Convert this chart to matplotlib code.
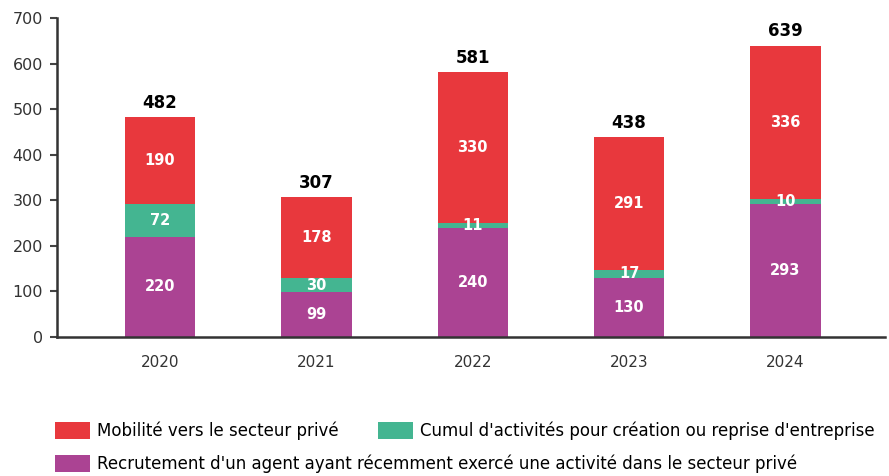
import matplotlib.pyplot as plt
import numpy as np

years = ["2020", "2021", "2022", "2023", "2024"]
recrutement = [220, 99, 240, 130, 293]
cumul = [72, 30, 11, 17, 10]
mobilite = [190, 178, 330, 291, 336]
totals = [482, 307, 581, 438, 639]

labels = ["Mobilité vers le secteur privé",
          "Cumul d'activités pour création ou reprise d'entreprise",
          "Recrutement d'un agent ayant récemment exercé une activité dans le secteur privé"]
c_red, c_green, c_purple = "#E8383D", "#44B591", "#AB4393"

plt.rcParams['font.family'] = ['DejaVu Sans']

fig = plt.figure(figsize=(8.89, 4.76), dpi=100)
ax = fig.add_axes([0.064, 0.292, 0.932, 0.670])

x = np.arange(len(years))
w = 0.45
b1 = ax.bar(x, recrutement, w, color=c_purple)
b2 = ax.bar(x, cumul, w, bottom=recrutement, color=c_green)
bot3 = [a + b for a, b in zip(recrutement, cumul)]
b3 = ax.bar(x, mobilite, w, bottom=bot3, color=c_red)

for i in range(len(years)):
    ax.text(x[i], recrutement[i] / 2, str(recrutement[i]), ha='center', va='center',
            color='white', fontsize=10.5, fontweight='bold')
    ax.text(x[i], recrutement[i] + cumul[i] / 2, str(cumul[i]), ha='center', va='center',
            color='white', fontsize=10.5, fontweight='bold')
    ax.text(x[i], bot3[i] + mobilite[i] / 2, str(mobilite[i]), ha='center', va='center',
            color='white', fontsize=10.5, fontweight='bold')
    ax.text(x[i], totals[i] + 12, str(totals[i]), ha='center', va='bottom',
            color='black', fontsize=12, fontweight='bold')

ax.set_xlim(-0.66, 4.64)
ax.set_ylim(0, 700)
ax.set_yticks(range(0, 701, 100))
ax.set_xticks(x)
ax.set_xticklabels(years)
ax.tick_params(axis='x', length=0, pad=13, labelsize=11, labelcolor='#333333')
ax.tick_params(axis='y', length=5, width=1.5, color='#444444', labelsize=11.5, labelcolor='#333333', pad=5)
for s in ['top', 'right']:
    ax.spines[s].set_visible(False)
for s in ['left', 'bottom']:
    ax.spines[s].set_linewidth(1.8)
    ax.spines[s].set_color('#333333')

leg_kw = dict(frameon=False, fontsize=12, handlelength=2.1, handleheight=1.2,
              handletextpad=0.42, borderaxespad=0, loc='center left')
leg1 = fig.legend([b3, b2], labels[:2], ncol=2, columnspacing=2.4,
                  bbox_to_anchor=(0.054, 0.0945), **leg_kw)
leg2 = fig.legend([b1], labels[2:], bbox_to_anchor=(0.054, 0.025), **leg_kw)

fig.savefig("out.png", dpi=100)
